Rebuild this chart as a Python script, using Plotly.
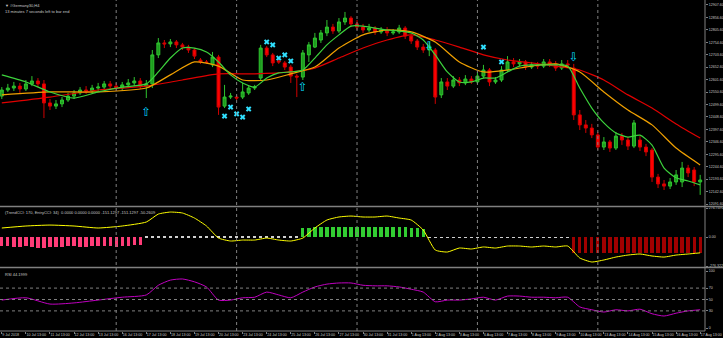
import plotly.graph_objects as go

# ---------------- data ----------------
day_labels = ["9 Jul 2018", "10 Jul 13:00", "11 Jul 13:00", "12 Jul 13:00", "13 Jul 13:00",
              "16 Jul 13:00", "17 Jul 13:00", "18 Jul 13:00", "19 Jul 13:00", "20 Jul 13:00",
              "23 Jul 13:00", "24 Jul 13:00", "25 Jul 13:00", "26 Jul 13:00", "27 Jul 13:00",
              "30 Jul 13:00", "31 Jul 13:00", "1 Aug 13:00", "2 Aug 13:00", "3 Aug 13:00",
              "6 Aug 13:00", "7 Aug 13:00", "8 Aug 13:00", "9 Aug 13:00", "10 Aug 13:00",
              "13 Aug 13:00", "14 Aug 13:00", "15 Aug 13:00", "16 Aug 13:00", "17 Aug 13:00"]
label_bar = [0, 4, 8, 12, 16, 20, 24, 28, 32, 36, 40, 44, 48, 52, 56, 60, 64, 68, 72, 76,
             80, 84, 88, 92, 96, 100, 104, 108, 112, 116]
week_start_bar = [19, 39, 59, 79, 99]

bar = list(range(117))
open_ = [12534, 12559, 12567, 12575, 12563, 12584, 12596, 12584, 12506, 12493,
         12502, 12518, 12534, 12547, 12559, 12555, 12567, 12571, 12584, 12575,
         12567, 12580, 12588, 12596, 12575, 12584, 12703, 12752, 12748, 12756,
         12744, 12735, 12723, 12682, 12674, 12662, 12694, 12493, 12530, 12530,
         12530, 12547, 12567, 12608, 12731, 12703, 12678, 12670, 12653, 12616,
         12612, 12703, 12735, 12764, 12793, 12817, 12801, 12838, 12854, 12830,
         12817, 12805, 12813, 12797, 12805, 12793, 12797, 12813, 12780, 12760,
         12735, 12723, 12723, 12539, 12592, 12575, 12600, 12588, 12604, 12592,
         12616, 12641, 12592, 12600, 12641, 12674, 12666, 12674, 12653, 12662,
         12657, 12674, 12666, 12649, 12666, 12649, 12457, 12416, 12403, 12375,
         12325, 12346, 12321, 12370, 12354, 12329, 12354, 12325, 12313, 12202,
         12174, 12165, 12182, 12182, 12239, 12231, 12182]
high = [12571, 12584, 12592, 12588, 12600, 12616, 12608, 12600, 12522, 12518,
        12530, 12547, 12559, 12571, 12575, 12580, 12588, 12596, 12596, 12588,
        12592, 12604, 12612, 12608, 12600, 12723, 12772, 12764, 12768, 12764,
        12752, 12744, 12731, 12690, 12682, 12715, 12703, 12580, 12547, 12539,
        12588, 12575, 12580, 12744, 12739, 12711, 12690, 12678, 12662, 12625,
        12723, 12756, 12793, 12805, 12846, 12830, 12854, 12879, 12862, 12846,
        12830, 12830, 12821, 12817, 12817, 12809, 12826, 12821, 12789, 12768,
        12748, 12756, 12731, 12608, 12608, 12616, 12612, 12620, 12616, 12633,
        12662, 12649, 12612, 12657, 12698, 12690, 12686, 12682, 12674, 12674,
        12686, 12686, 12678, 12682, 12682, 12666, 12477, 12436, 12420, 12387,
        12366, 12354, 12387, 12383, 12366, 12436, 12370, 12338, 12321, 12215,
        12190, 12198, 12231, 12264, 12252, 12243, 12211]
low = [12522, 12551, 12555, 12547, 12555, 12575, 12571, 12444, 12477, 12481,
       12489, 12510, 12522, 12539, 12543, 12547, 12555, 12563, 12563, 12555,
       12555, 12567, 12575, 12563, 12526, 12567, 12690, 12731, 12735, 12731,
       12723, 12711, 12686, 12666, 12666, 12653, 12457, 12485, 12522, 12518,
       12522, 12539, 12559, 12600, 12694, 12657, 12666, 12641, 12588, 12530,
       12600, 12674, 12731, 12752, 12780, 12789, 12793, 12826, 12817, 12805,
       12793, 12797, 12785, 12789, 12780, 12785, 12789, 12768, 12748, 12723,
       12711, 12698, 12502, 12526, 12559, 12567, 12575, 12579, 12584, 12584,
       12608, 12575, 12584, 12592, 12633, 12653, 12657, 12641, 12645, 12645,
       12649, 12653, 12637, 12641, 12649, 12436, 12395, 12383, 12362, 12313,
       12313, 12305, 12313, 12334, 12313, 12321, 12309, 12288, 12182, 12157,
       12149, 12153, 12170, 12161, 12202, 12165, 12129]
close = [12559, 12567, 12575, 12563, 12584, 12596, 12584, 12506, 12493, 12502,
         12518, 12534, 12547, 12559, 12555, 12567, 12571, 12584, 12575, 12567,
         12580, 12588, 12596, 12575, 12584, 12703, 12752, 12748, 12756, 12744,
         12735, 12723, 12698, 12674, 12672, 12694, 12489, 12530, 12534, 12526,
         12551, 12567, 12571, 12731, 12703, 12670, 12674, 12653, 12616, 12612,
         12711, 12744, 12772, 12793, 12817, 12801, 12838, 12854, 12830, 12817,
         12805, 12813, 12797, 12805, 12793, 12797, 12813, 12780, 12760, 12735,
         12723, 12739, 12530, 12592, 12575, 12600, 12588, 12604, 12592, 12616,
         12641, 12592, 12600, 12641, 12674, 12666, 12674, 12653, 12662, 12657,
         12674, 12666, 12649, 12666, 12662, 12457, 12416, 12403, 12375, 12325,
         12346, 12321, 12370, 12354, 12329, 12424, 12325, 12305, 12202, 12174,
         12165, 12182, 12211, 12239, 12219, 12182, 12190]

slow_bar = [0, 8, 16, 24, 30, 36, 42, 48, 52, 56, 60, 64, 68, 72, 76, 80, 84, 88, 92, 96,
            100, 104, 108, 112, 116]
slow_ma = [12506, 12530, 12559, 12575, 12600, 12625, 12625, 12633, 12649, 12690, 12731,
           12764, 12785, 12764, 12735, 12703, 12682, 12670, 12657, 12641, 12600, 12539,
           12485, 12420, 12362]
mid_bar = [0, 8, 16, 24, 28, 32, 36, 40, 44, 48, 52, 56, 60, 64, 68, 72, 76, 80, 84, 88,
           92, 96, 100, 104, 108, 112, 116]
mid_ma = [12539, 12551, 12551, 12567, 12621, 12674, 12657, 12600, 12600, 12625, 12653,
          12731, 12785, 12805, 12797, 12756, 12674, 12633, 12641, 12657, 12666, 12633,
          12551, 12477, 12416, 12321, 12252]
fast_bar = [0, 4, 8, 12, 16, 20, 24] + list(range(26, 117, 2))
fast_ma = [12621, 12592, 12551, 12526, 12551, 12571, 12584, 12633, 12690, 12731, 12731,
           12715, 12674, 12621, 12588, 12571, 12608, 12629, 12633, 12641, 12690, 12744,
           12785, 12821, 12821, 12813, 12805, 12801, 12793, 12764, 12703, 12633, 12592,
           12592, 12608, 12608, 12633, 12657, 12662, 12662, 12662, 12657, 12567, 12485,
           12424, 12383, 12366, 12374, 12333, 12239, 12199, 12186, 12170]

buy_bar = [24, 50]
buy_price = [12465, 12567]
sell_bar = [71, 95]
sell_price = [12735, 12690]
cross_bar = [37, 38, 39, 40, 41, 44, 45, 46, 47, 48, 80, 83]
cross_price = [12452, 12489, 12461, 12448, 12481, 12756, 12744, 12690, 12703, 12678,
               12735, 12674]

# TrendCCI histogram, per bar, with its state
cci_hist = [-85, -90, -95, -92, -88, -95, -100, -105, -98, -95,
            -92, -90, -88, -92, -95, -90, -88, -85, -90, -92,
            -88, -85, -80, -78, 8, 8, 8, 8, 8, 8,
            8, 8, 8, 8, 8, 8, 8, 8, 8, 8,
            8, 8, 8, 8, 8, 8, 8, 8, 8, 8,
            85, 90, 95, 100, 95, 95, 100, 98, 95, 92,
            95, 98, 100, 96, 92, 95, 98, 92, 88, 85,
            80, -8, -8, -8, -8, -8, -8, -8, -8, -8,
            -8, -8, -8, -8, -8, -8, -8, -8, -8, -8,
            -8, -8, -8, -8, -8, -151, -151, -151, -151, -151,
            -151, -151, -151, -151, -151, -151, -151, -151, -151, -151,
            -151, -151, -151, -151, -151, -151, -151]
cci_state = (["down"] * 24 + ["flat"] * 26 + ["up"] * 21 + ["flat"] * 24 + ["strong"] * 22)

line_bar = [0, 4, 8, 12, 16, 20, 24] + list(range(26, 117, 2))
trend_cci = [86, 105, 114, 105, 86, 105, 143, 219, 238, 229, 181, 105, -10, -38, -29, -29,
             -10, -29, -38, -10, 86, 162, 191, 200, 191, 191, 200, 181, 162, 67, -124,
             -143, -105, -114, -95, -105, -86, -86, -95, -86, -95, -86, -200, -238, -219,
             -191, -172, -162, -181, -191, -172, -162, -151]
rsi = [49, 53, 42, 44, 49, 54, 58, 75, 84, 86, 81, 72, 49, 49, 53, 54, 63, 58, 53, 63, 72,
       77, 79, 79, 75, 74, 74, 72, 68, 63, 46, 49, 49, 51, 54, 49, 56, 56, 54, 54, 53, 54,
       37, 32, 28, 32, 30, 33, 25, 21, 26, 30, 32]

price_ticks = [12907.6 - 51 * k for k in range(17)]
cci_ticks = [276.7491, 0, -276.322]
cci_ticktext = ["276.7491", "0.00", "-276.322"]
rsi_ticks = [100, 70, 50, 30, 0]
rsi_levels = [70, 50, 30]

# ---------------- layout helpers ----------------
W, H = 723, 338
MR, MB = 18, 7
PH = H - MB
def py(px):
    return 1 - px / PH

FONT = "Liberation Sans"
TXT = "#c8c8c8"
GRAY = "#808080"
state_color = {"down": "#ff3c78", "flat": "#d0d0d0", "up": "#32cd32", "strong": "#a00000"}

fig = go.Figure()
fig.add_trace(go.Candlestick(
    x=bar, open=open_, high=high, low=low, close=close,
    increasing=dict(fillcolor="#1e9a1e", line=dict(color="#2fc42f", width=1)),
    decreasing=dict(fillcolor="#ff0000", line=dict(color="#d00000", width=1)),
    whiskerwidth=0, xaxis="x", yaxis="y", hoverinfo="skip"))
fig.add_trace(go.Scatter(x=slow_bar, y=slow_ma, mode="lines", yaxis="y",
                         line=dict(color="#e00000", width=1.2, shape="spline", smoothing=0.6)))
fig.add_trace(go.Scatter(x=mid_bar, y=mid_ma, mode="lines", yaxis="y",
                         line=dict(color="#f0a000", width=1.2, shape="spline", smoothing=0.6)))
fig.add_trace(go.Scatter(x=fast_bar, y=fast_ma, mode="lines", yaxis="y",
                         line=dict(color="#3cd23c", width=1.2, shape="spline", smoothing=0.6)))
fig.add_trace(go.Scatter(x=buy_bar, y=buy_price, mode="text", text=["⇧"] * len(buy_bar),
                         textfont=dict(color="#00d8ff", size=12, family="DejaVu Sans"), yaxis="y"))
fig.add_trace(go.Scatter(x=sell_bar, y=sell_price, mode="text", text=["⇩"] * len(sell_bar),
                         textfont=dict(color="#00d8ff", size=12, family="DejaVu Sans"), yaxis="y"))
fig.add_trace(go.Scatter(x=cross_bar, y=cross_price, mode="markers", yaxis="y",
                         marker=dict(symbol="x", size=5, color="#30e0ff", line=dict(width=0))))

for st, col in state_color.items():
    xs = [b for b, s in zip(bar, cci_state) if s == st]
    ys = [v for v, s in zip(cci_hist, cci_state) if s == st]
    fig.add_trace(go.Bar(x=xs, y=ys, yaxis="y2", marker=dict(color=col, line=dict(width=0)),
                         width=0.55))
fig.add_trace(go.Scatter(x=line_bar, y=trend_cci, mode="lines", yaxis="y2",
                         line=dict(color="#ffff00", width=1, shape="spline", smoothing=0.5)))
fig.add_trace(go.Scatter(x=line_bar, y=rsi, mode="lines", yaxis="y3",
                         line=dict(color="#c000c0", width=1, shape="spline", smoothing=0.6)))

shapes = []
for y in (206.5, 267.5):
    shapes.append(dict(type="line", xref="paper", yref="paper", x0=0, x1=W / (W - MR),
                       y0=py(y), y1=py(y), line=dict(color=GRAY, width=1.5)))
shapes.append(dict(type="line", xref="paper", yref="paper", x0=1, x1=1, y0=0, y1=1,
                   line=dict(color=GRAY, width=1)))
shapes.append(dict(type="line", xref="paper", yref="paper", x0=0, x1=1, y0=0, y1=0,
                   line=dict(color=GRAY, width=1)))
for b in week_start_bar:
    shapes.append(dict(type="line", xref="x", yref="paper", x0=b, x1=b, y0=0, y1=1,
                       line=dict(color=GRAY, width=1, dash="dot")))
for lv in rsi_levels:
    shapes.append(dict(type="line", xref="paper", yref="y3", x0=0, x1=1, y0=lv, y1=lv,
                       line=dict(color=GRAY, width=1, dash="dot")))

tf = dict(family=FONT, size=4, color=TXT)
axf = dict(family=FONT, size=3.6, color=TXT)
annotations = [
    dict(text="▼ #Germany30,H4", x=0.004, y=py(1), xref="paper", yref="paper",
         xanchor="left", yanchor="top", showarrow=False, font=tf),
    dict(text="13 minutes 7 seconds left to bar end", x=0.004, y=py(7), xref="paper",
         yref="paper", xanchor="left", yanchor="top", showarrow=False, font=tf),
    dict(text="(TrendCCI: 170, EntryCCI: 34)  0.0000 0.0000 0.0000 -151.1297 -151.1297 -50.2609",
         x=0.004, y=py(208), xref="paper", yref="paper", xanchor="left", yanchor="top",
         showarrow=False, font=tf),
    dict(text="RSI 44.1999", x=0.004, y=py(269.5), xref="paper", yref="paper",
         xanchor="left", yanchor="top", showarrow=False, font=tf),
]

axis_common = dict(showgrid=False, zeroline=False, showline=False, ticks="outside",
                   ticklen=2, tickcolor=GRAY, tickfont=axf, side="right", anchor="x",
                   fixedrange=True, automargin=False)
fig.update_layout(
    width=W, height=H, margin=dict(l=0, r=MR, t=0, b=MB, autoexpand=False),
    paper_bgcolor="#000000", plot_bgcolor="#000000", showlegend=False,
    bargap=0, barmode="overlay", hovermode=False,
    xaxis=dict(domain=[0, 1], range=[-0.3, 116.8], anchor="free", position=0,
               tickvals=label_bar, ticktext=day_labels, ticklabelposition="outside right",
               tickangle=0, automargin=False,
               ticks="outside", ticklen=2, tickcolor=GRAY, tickfont=axf,
               showgrid=False, zeroline=False, showline=False,
               rangeslider=dict(visible=False), fixedrange=True),
    yaxis=dict(domain=[py(206), 1], range=[12083.4, 12928], tickvals=price_ticks,
               ticktext=[f"{v:.2f}" for v in price_ticks], **axis_common),
    yaxis2=dict(domain=[py(266), py(208)], range=[-276.322, 276.7491], tickvals=cci_ticks,
                ticktext=cci_ticktext, **axis_common),
    yaxis3=dict(domain=[py(328), py(271)], range=[0, 100], tickvals=rsi_ticks,
                ticktext=[str(v) for v in rsi_ticks], **axis_common),
    shapes=shapes, annotations=annotations,
)

fig.write_html("out.html")
